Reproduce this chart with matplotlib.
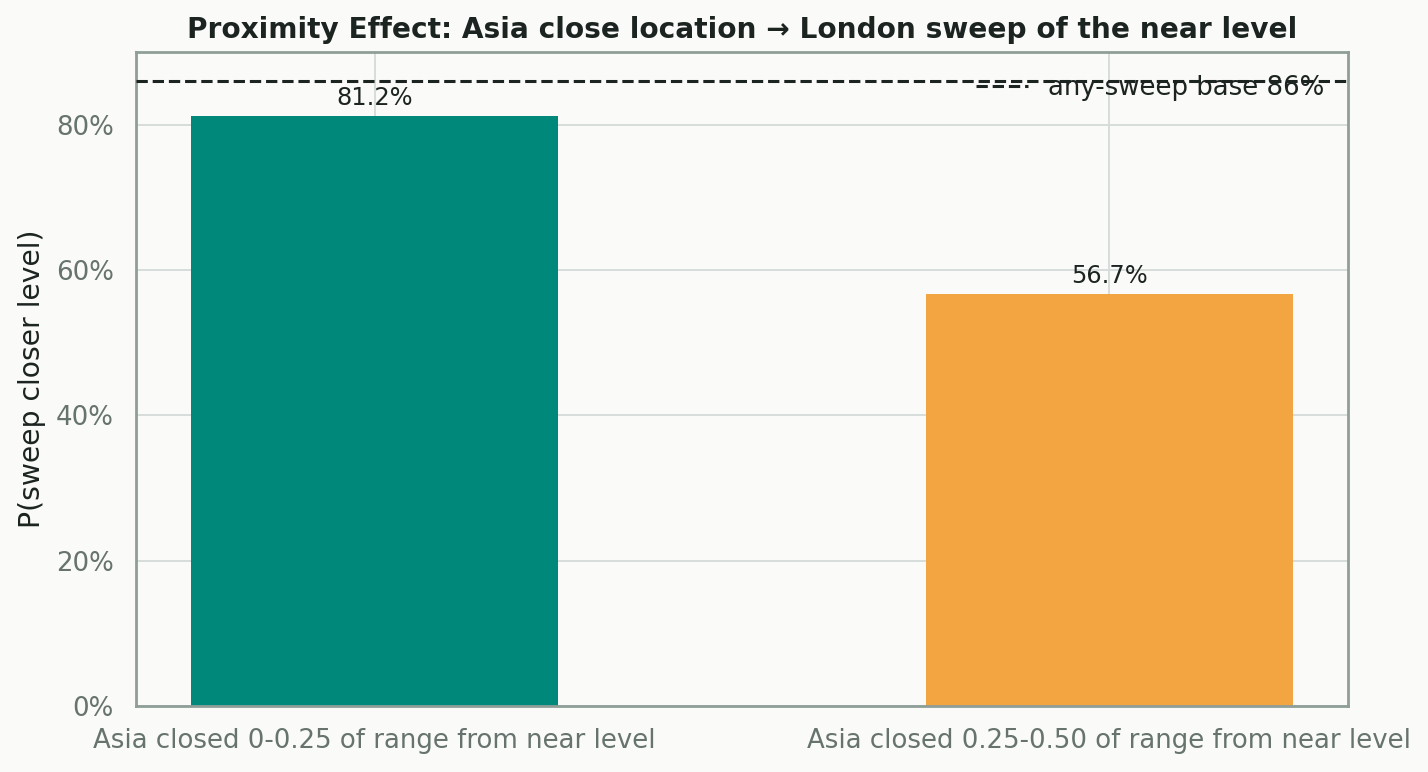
import matplotlib
matplotlib.use("Agg")
import matplotlib.pyplot as plt
from matplotlib.ticker import PercentFormatter, MultipleLocator

categories = ["Asia closed 0-0.25 of range from near level",
              "Asia closed 0.25-0.50 of range from near level"]
values = [0.812, 0.567]
bar_labels = ["81.2%", "56.7%"]
base_rate = 0.86
base_label = "any-sweep base 86%"
title = "Proximity Effect: Asia close location \u2192 London sweep of the near level"
ylabel = "P(sweep closer level)"
colors = ["#00897B", "#F2A541"]

bg = "#FAFAF8"
dark = "#1C2421"
tickc = "#66736E"
spinec = "#8F9E98"
gridc = "#D5DDDA"

plt.rcParams['font.family'] = ['DejaVu Sans']
fig, ax = plt.subplots(figsize=(7.14, 3.86), dpi=200)
fig.patch.set_facecolor(bg)
ax.set_facecolor(bg)

x = list(range(len(categories)))
bars = ax.bar(x, values, width=0.5, color=colors, zorder=2)
ax.bar_label(bars, labels=bar_labels, padding=2, fontsize=8.7, color=dark)
ax.axhline(base_rate, color=dark, linestyle="--", linewidth=1.1, label=base_label, zorder=3)

ax.set_xticks(x)
ax.set_xticklabels(categories)
ax.set_ylim(0, 0.9)
ax.yaxis.set_major_locator(MultipleLocator(0.2))
ax.yaxis.set_major_formatter(PercentFormatter(1.0, decimals=0))
ax.tick_params(length=0, labelsize=9.35, colors=tickc, pad=8)
ax.set_ylabel(ylabel, fontsize=10.2, color=dark, labelpad=3.5)
ax.set_title(title, fontsize=10.1, fontweight="bold", color=dark, pad=5)
ax.grid(True, color=gridc, linewidth=0.7, zorder=0)
ax.set_axisbelow(True)
for s in ax.spines.values():
    s.set_color(spinec)
    s.set_linewidth(1.0)
leg = ax.legend(loc="upper right", frameon=False, fontsize=9.35, labelcolor=dark,
                borderaxespad=0.5)
fig.subplots_adjust(left=136/1428, right=1348/1428, top=1-52/772, bottom=1-706/772)
fig.savefig("out.png", dpi=200, facecolor=bg)
